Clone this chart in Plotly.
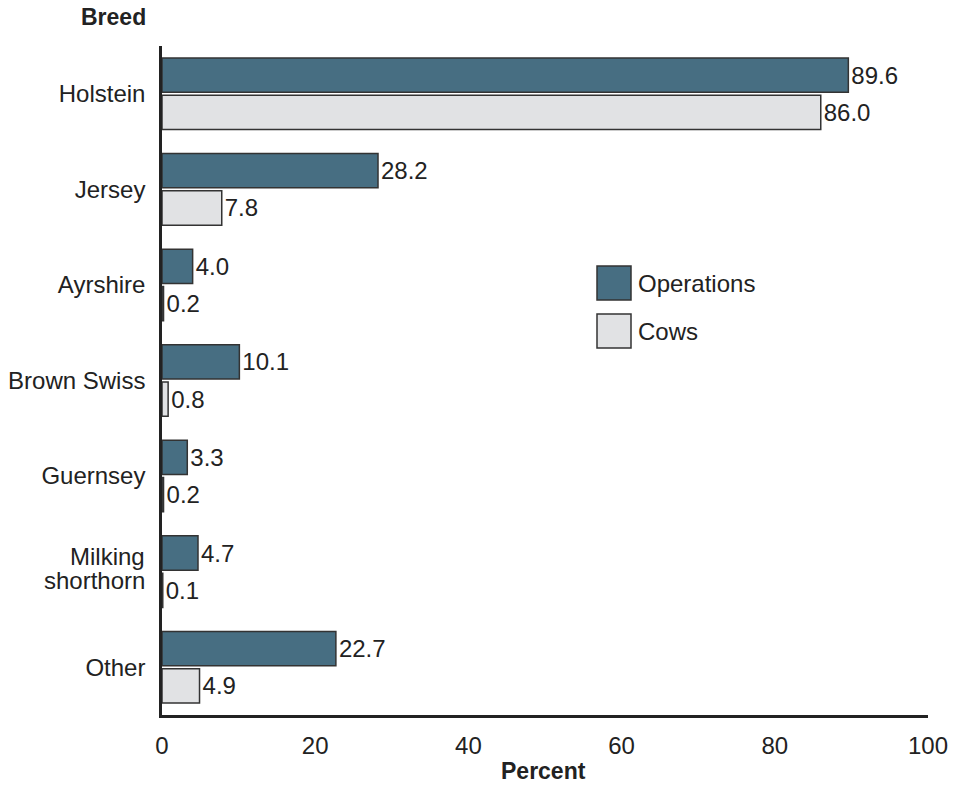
import plotly.graph_objects as go

breeds = ["Holstein", "Jersey", "Ayrshire", "Brown Swiss", "Guernsey", "Milking shorthorn", "Other"]
operations = [89.6, 28.2, 4.0, 10.1, 3.3, 4.7, 22.7]
cows = [86.0, 7.8, 0.2, 0.8, 0.2, 0.1, 4.9]
x_ticks = [0, 20, 40, 60, 80, 100]
wrapped = {"Milking shorthorn": ["Milking", "shorthorn"]}

op_color = "#476e82"
cow_color = "#e1e2e4"
edge = "#333333"
font = "Liberation Sans, Arial, sans-serif"
FS = 24

fig = go.Figure()
fig.add_trace(go.Bar(y=breeds, x=operations, orientation="h", name="Operations",
                     marker=dict(color=op_color, line=dict(color=edge, width=1.5)),
                     text=operations, texttemplate="%{x:.1f}", textposition="outside",
                     textfont=dict(size=FS, color="#222"), cliponaxis=False, showlegend=False))
fig.add_trace(go.Bar(y=breeds, x=cows, orientation="h", name="Cows",
                     marker=dict(color=cow_color, line=dict(color=edge, width=1.5)),
                     text=cows, texttemplate="%{x:.1f}", textposition="outside",
                     textfont=dict(size=FS, color="#222"), cliponaxis=False, showlegend=False))

ticktext = ["" if b in wrapped else b for b in breeds]

# page offset of 8px body margin is accounted for in sizes/margins
fig.update_layout(
    width=949, height=804,
    margin=dict(l=154, r=29, t=38, b=97, autoexpand=False),
    paper_bgcolor="white", plot_bgcolor="white",
    barmode="group", bargap=0.22, bargroupgap=0.08,
    font=dict(family=font, size=FS, color="#222"),
    xaxis=dict(range=[0, 100], tickvals=x_ticks, showgrid=False, zeroline=False,
               showline=True, linecolor="#222", linewidth=2.5, ticks="", automargin=False,
               ticklabelstandoff=7, tickfont=dict(size=FS), fixedrange=True),
    yaxis=dict(autorange="reversed", showgrid=False, zeroline=False,
               tickmode="array", tickvals=breeds, ticktext=ticktext,
               showline=True, linecolor="#222", linewidth=2.5, ticks="", automargin=False,
               ticklabelstandoff=9, tickfont=dict(size=FS), fixedrange=True),
)

PW, PH = 766, 669  # plot area size in px

# wrapped category labels with tighter line spacing
for cat, lines in wrapped.items():
    n = len(lines)
    for k, line in enumerate(lines):
        fig.add_annotation(text=line, xref="paper", yref="y", x=0, y=cat, xshift=-15,
                           yshift=3 + (n - 1) * 12 - k * 24,
                           xanchor="right", yanchor="middle", showarrow=False,
                           font=dict(size=FS, color="#222"))

# Axis titles
fig.add_annotation(text="<b>Breed</b>", xref="paper", yref="paper", x=(113 - 162) / PW, y=1.0, yshift=29,
                   xanchor="center", yanchor="middle", showarrow=False, font=dict(size=23, color="#222"))
fig.add_annotation(text="<b>Percent</b>", xref="paper", yref="paper", x=(543 - 162) / PW, y=0, yshift=-56,
                   xanchor="center", yanchor="middle", showarrow=False, font=dict(size=23, color="#222"))

# Legend drawn as boxes + labels
legend_items = [("Operations", op_color), ("Cows", cow_color)]
for i, (name, col) in enumerate(legend_items):
    ybot = 300 + i * 48
    fig.add_shape(type="rect", xref="paper", yref="paper",
                  x0=(597 - 162) / PW, x1=(631 - 162) / PW,
                  y0=(715 - ybot) / PH, y1=(715 - (ybot - 34)) / PH,
                  fillcolor=col, line=dict(color=edge, width=1.5))
    fig.add_annotation(text=name, xref="paper", yref="paper",
                       x=(636 - 162) / PW, y=(715 - (ybot - 17)) / PH,
                       xanchor="left", yanchor="middle", showarrow=False,
                       font=dict(size=FS, color="#222"))

fig.write_html("out.html")
